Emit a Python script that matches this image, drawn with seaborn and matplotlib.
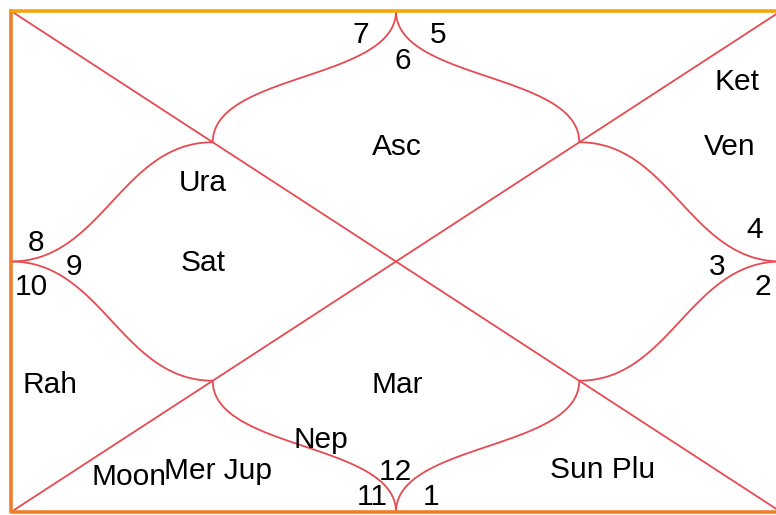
import numpy as np
import pandas as pd
import matplotlib
matplotlib.use("Agg")
import matplotlib.pyplot as plt
import seaborn as sns

# ---------------- data ----------------
house_signs = [6, 7, 8, 9, 10, 11, 12, 1, 2, 3, 4, 5]          # sign number in houses 1..12
planet_labels = ["Asc", "Ket", "Ven", "Ura", "Sat", "Rah", "Mar",
                 "Nep", "Moon", "Mer Jup", "Sun Plu"]

# ---------------- layout (pixel space) ----------------
W, H = 776, 515
X0, X1, Y0, Y1 = 11, 781, 11, 512
CX, CY = (X0 + X1) / 2, (Y0 + Y1) / 2
F = 0.476  # diagonal meeting points as fraction of half-diagonal

sign_pos = [(403, 61), (361, 35), (36, 243), (74, 267), (31, 287), (372, 497),
            (395, 472), (431, 497), (763, 287), (717, 267), (755, 230), (438, 35)]
planet_pos = [(397, 147), (737, 82), (730, 147), (203, 183), (203, 263), (50, 385),
              (397, 385), (321, 440), (129, 477), (218, 471), (603, 470)]

sns.set_theme(style="white")
plt.rcParams['font.family'] = ['Liberation Sans', 'DejaVu Sans']

fig = plt.figure(figsize=(W / 100, H / 100), dpi=100)
ax = fig.add_axes([0, 0, 1, 1])
ax.set_xlim(0, W)
ax.set_ylim(H, 0)
ax.axis("off")


def bez(p0, p1, p2, p3, n=80):
    t = np.linspace(0, 1, n)[:, None]
    p0, p1, p2, p3 = map(np.array, (p0, p1, p2, p3))
    return ((1 - t) ** 3) * p0 + 3 * ((1 - t) ** 2) * t * p1 + 3 * (1 - t) * t ** 2 * p2 + t ** 3 * p3


hw, hh = (X1 - X0) / 2, (Y1 - Y0) / 2
TL = (CX - F * hw, CY - F * hh)
TR = (CX + F * hw, CY - F * hh)
BL = (CX - F * hw, CY + F * hh)
BR = (CX + F * hw, CY + F * hh)
top, bot, left, right = (CX, Y0), (CX, Y1), (X0, CY), (X1, CY)

segs = []
segs.append(np.array([[X0, Y0], [X1, Y1]]))
segs.append(np.array([[X0, Y1], [X1, Y0]]))
kv = 0.53  # vertical control fraction
kh = 0.45  # horizontal control fraction
for P, Q in [(top, TL), (top, TR), (bot, BL), (bot, BR)]:
    dy = Q[1] - P[1]
    segs.append(bez(P, (P[0], P[1] + kv * dy), (Q[0], Q[1] - kv * dy), Q))
for P, Q in [(left, TL), (left, BL), (right, TR), (right, BR)]:
    dx = Q[0] - P[0]
    segs.append(bez(P, (P[0] + kh * dx, P[1]), (Q[0] - kh * dx, Q[1]), Q))

df = pd.concat([pd.DataFrame({"x": s[:, 0], "y": s[:, 1], "seg": i, "order": np.arange(len(s))})
                for i, s in enumerate(segs)])
sns.lineplot(data=df, x="x", y="y", units="seg", estimator=None, sort=False,
             color="#E64A52", linewidth=1.3, ax=ax, legend=False)

# border
ax.plot([X0, X0, X1], [Y0, Y1, Y1], color="#EF7E2C", linewidth=2.6, solid_capstyle="projecting")
ax.plot([X0, X1], [Y0, Y0], color="#F2A60A", linewidth=2.6, solid_capstyle="projecting")

ax.set_xlim(0, W)
ax.set_ylim(H, 0)

for s, (x, y) in zip(house_signs, sign_pos):
    ax.text(x, y, str(s), ha="center", va="center", fontsize=21.5, color="black")
for p, (x, y) in zip(planet_labels, planet_pos):
    ax.text(x, y, p, ha="center", va="center", fontsize=21.5, color="black")

fig.savefig("out.png", dpi=100, facecolor="white")
